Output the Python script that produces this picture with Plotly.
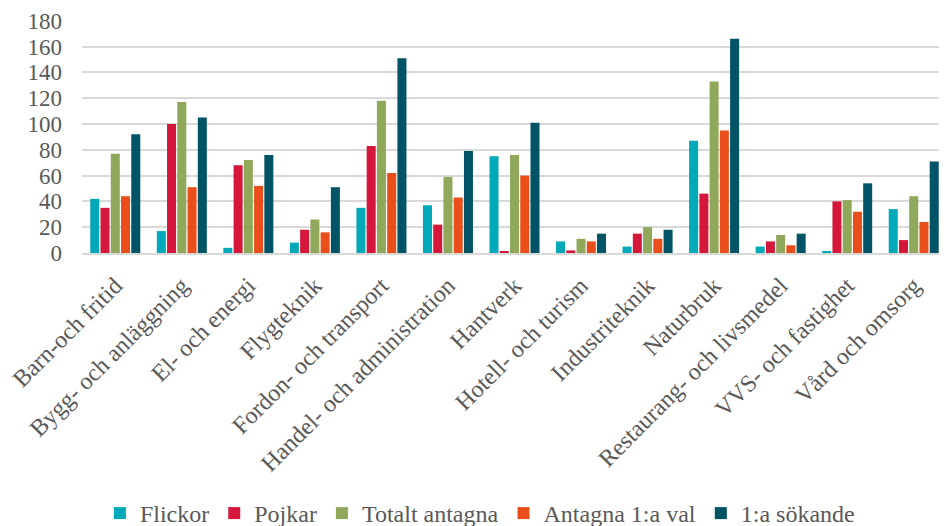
import plotly.graph_objects as go

categories = ["Barn-och fritid", "Bygg- och anläggning", "El- och energi", "Flygteknik",
              "Fordon- och transport", "Handel- och administration", "Hantverk",
              "Hotell- och turism", "Industriteknik", "Naturbruk",
              "Restaurang- och livsmedel", "VVS- och fastighet", "Vård och omsorg"]

flickor = [42, 17, 4, 8, 35, 37, 75, 9, 5, 87, 5, 1, 34]
pojkar = [35, 100, 68, 18, 83, 22, 1, 2, 15, 46, 9, 40, 10]
totalt_antagna = [77, 117, 72, 26, 118, 59, 76, 11, 20, 133, 14, 41, 44]
antagna_1a_val = [44, 51, 52, 16, 62, 43, 60, 9, 11, 95, 6, 32, 24]
forsta_sokande = [92, 105, 76, 51, 151, 79, 101, 15, 18, 166, 15, 54, 71]

series = [
    ("Flickor", flickor, "#00A9B7"),
    ("Pojkar", pojkar, "#D4173A"),
    ("Totalt antagna", totalt_antagna, "#8FA85A"),
    ("Antagna 1:a val", antagna_1a_val, "#E94E1B"),
    ("1:a sökande", forsta_sokande, "#005466"),
]

font_family = "Liberation Serif, Times New Roman, serif"
text_color = "#595959"

fig = go.Figure()
for name, vals, color in series:
    fig.add_trace(go.Bar(name=name, x=categories, y=vals, marker_color=color,
                         marker_line_width=0))

# page adds an 8px body margin, so the figure is sized to 939x518
fig.update_layout(
    width=939, height=518,
    margin=dict(l=74, r=0, t=12, b=273, autoexpand=False),
    paper_bgcolor="white", plot_bgcolor="white",
    barmode="group", bargap=0.23, bargroupgap=0.12,
    font=dict(family=font_family, size=24, color=text_color),
    legend=dict(orientation="h", x=0.46, y=-1.118, xanchor="center", yanchor="middle",
                font=dict(family=font_family, size=24, color=text_color),
                traceorder="normal"),
)
fig.update_xaxes(tickangle=-45, showgrid=False, showline=True, linecolor="#D9D9D9",
                 linewidth=2, automargin=False, ticklabelstandoff=7,
                 tickfont=dict(family=font_family, size=24, color=text_color))
fig.update_yaxes(range=[0, 180.6], tickvals=[0, 20, 40, 60, 80, 100, 120, 140, 160, 180],
                 showgrid=True, gridcolor="#D9D9D9",
                 gridwidth=1.5, zeroline=False, ticklabelstandoff=19,
                 automargin=False,
                 tickfont=dict(family=font_family, size=23, color=text_color))

fig.write_html("out.html")
